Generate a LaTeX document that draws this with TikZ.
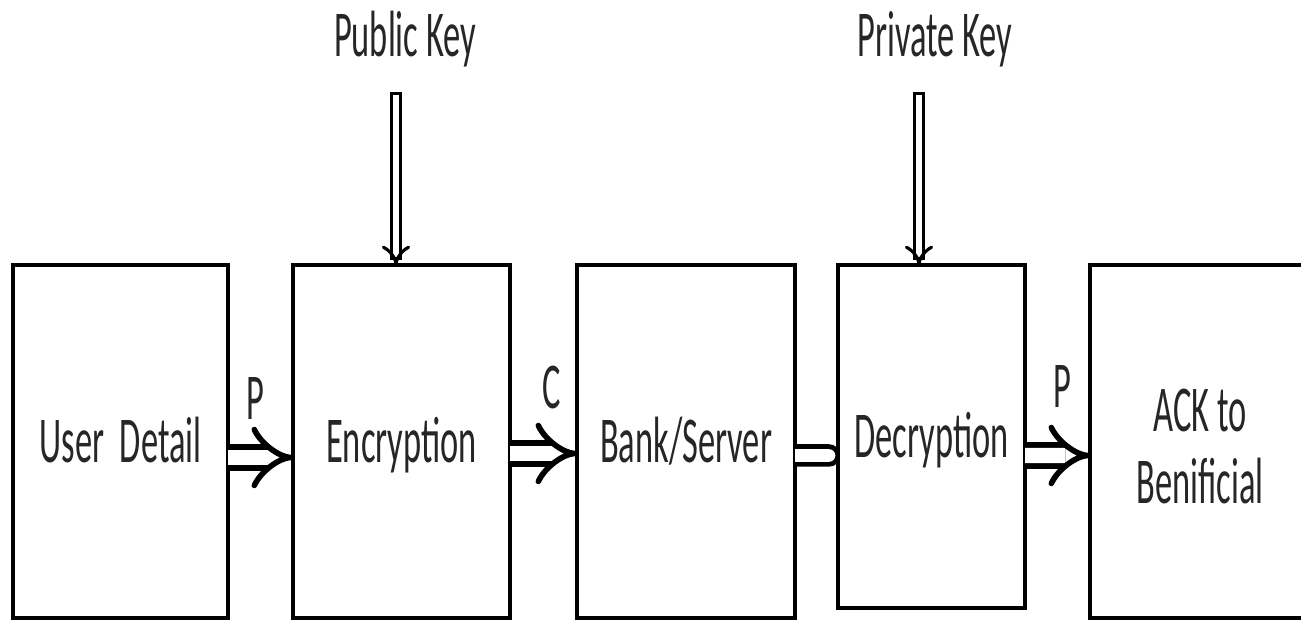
\documentclass[tikz,border=0pt]{standalone}
\usepackage{fontspec}
\setmainfont{Carlito}
\usepackage{graphicx}
\usetikzlibrary{arrows.meta, positioning}

% tall, narrow lettering used for every label
\newcommand{\talltext}[1]{\scalebox{1}[1.9]{#1}}

\begin{document}
\begin{tikzpicture}[
  every node/.style={font=\fontsize{9.8}{10.8}\selectfont, text=black!85},
  block/.style={draw=black, line width=1.2pt, inner sep=0pt, outer sep=0pt,
    minimum width=2.17cm, minimum height=3.53cm, text height=12pt, text depth=0pt},
  flow/.style={draw=black, double=white, line width=1.6pt, double distance=4.4pt,
    -{Implies[length=6pt, width=17pt]}},
  keyflow/.style={draw=black, double=white, line width=0.9pt, double distance=1.8pt,
    line cap=rect, -{Implies[length=8pt, width=7pt]}}
]
  % Page frame
  \useasboundingbox (0,0) rectangle (13.01,6.21);
  \clip (0,0) rectangle (13.01,6.21);

  % Processing stages
  \node[block, minimum width=2.15cm] (user) at (1.205,1.795) {\talltext{User\ \ Detail}};
  \node[block] (enc)  at (4.015,1.795) {\talltext{Encryption}};
  \node[block, minimum width=2.18cm] (bank) at (6.86,1.795) {\talltext{Bank/Server}};
  \node[block, minimum width=1.87cm, minimum height=3.43cm] (dec) at (9.315,1.845) {\talltext{Decryption}};
  \node[block, minimum width=2.2cm, text height=0pt, text depth=0pt] (ack) at (12.0,1.795)
    {\raisebox{-8.1pt}[0pt][0pt]{\talltext{\begin{tabular}{@{}c@{}}ACK to\\Benificial\end{tabular}}}};

  % Keys
  \node (pubkey)  at (4.05,5.82) {\talltext{Public Key}};
  \node (privkey) at (9.35,5.82) {\talltext{Private Key}};
  \coordinate (pubin)  at (3.96,5.23);
  \coordinate (privin) at (9.19,5.23);
  \draw[keyflow] (pubin) -- (pubin |- enc.north);
  \draw[keyflow] (privin) -- (privin |- dec.north);

  % Data flow between stages
  \draw[flow] ([yshift=-0.16cm]user.east) -- ([yshift=-0.16cm]enc.west)
    node[midway, above=0.23cm, xshift=-0.05cm] (ptext) {\talltext{P}};
  \draw[flow] ([yshift=-0.12cm]enc.east) -- ([yshift=-0.12cm]bank.west)
    node[midway, above=0.3cm, xshift=0.08cm] (ctext) {\talltext{C}};
  % plain link, cut off at the server box
  \begin{scope}
    \clip (bank.east |- 0,0) rectangle (dec.west |- 0,6.21);
    \draw[draw=black, double=white, line width=1.4pt, double distance=3.6pt, line cap=round]
      ([yshift=-0.14cm]bank.east) -- ([xshift=-0.09cm, yshift=-0.19cm]dec.west);
  \end{scope}
  \draw[flow] ([yshift=-0.19cm]dec.east) -- ([yshift=-0.14cm]ack.west)
    node[midway, above=0.33cm, xshift=0.05cm] (p2text) {\talltext{P}};
\end{tikzpicture}
\end{document}
